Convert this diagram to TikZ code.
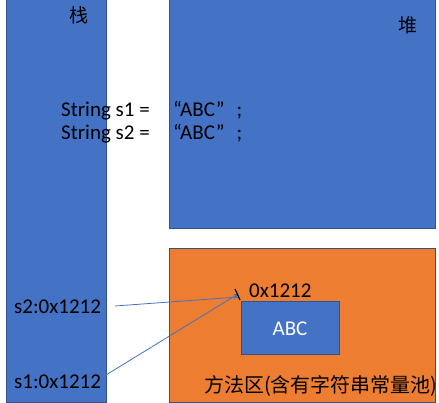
\documentclass[tikz,border=0pt]{standalone}
\usepackage{fontspec}
\setmainfont{Carlito}
\newfontfamily\cjk{Noto Sans CJK SC}
\definecolor{boxblue}{HTML}{4472C4}
\definecolor{edgeblue}{HTML}{2F528F}
\definecolor{pool}{HTML}{ED7D31}
\begin{document}
\begin{tikzpicture}[x=1pt,y=-1pt,
  area/.style={fill=boxblue,draw=edgeblue,line width=0.8pt},
  lbl/.style={anchor=base west,inner sep=0pt,font=\fontsize{21}{25}\selectfont},
  ptr/.style={->,>=stealth,draw=boxblue,line width=0.8pt}]
\useasboundingbox (0,0) rectangle (439,403);
\draw[area] (6,-2) rectangle (106,402);
\draw[area] (169,-2) rectangle (435,228);
\draw[area,fill=pool] (169,248) rectangle (435,402);
\draw[area] (241,301) rectangle (339,354);
\node[lbl,font=\cjk\fontsize{19}{22}\selectfont] (stack) at (69,23) {栈};
\node[lbl,font=\cjk\fontsize{19}{22}\selectfont] (heap) at (398,33) {堆};
\node[lbl] (code1) at (61,117) {String s1 =};
\node[lbl] (code2) at (61,140) {String s2 =};
\node[lbl] (lit1) at (173,117) {“ABC”\hspace{12pt};};
\node[lbl] (lit2) at (173,140) {“ABC”\hspace{12pt};};
\node[lbl] (s2) at (14,313) {s2:0x1212};
\node[lbl] (s1) at (14,388) {s1:0x1212};
\node[lbl] (addr) at (249,298) {0x1212};
\node[lbl,text=white,anchor=base] (abc) at (290,335) {ABC};
\node[lbl,font=\cjk\fontsize{20}{24}\selectfont] (method) at (204,392) {方法区(含有字符串常量池)};
\coordinate (s2out) at (115,306);
\coordinate (s1out) at (106,375);
\coordinate (hit) at (238,297);
\draw[ptr] (s2out) -- (hit);
\draw[ptr] (s1out) -- ([yshift=3pt]hit);
\draw[line width=1.2pt] (235,289) -- (240,300);
\end{tikzpicture}
\end{document}
